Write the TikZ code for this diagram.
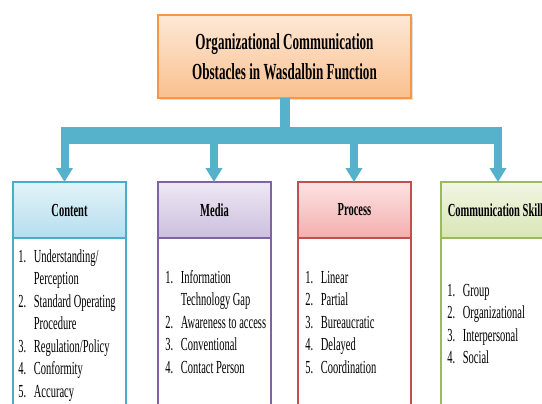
\documentclass[tikz,border=0pt]{standalone}
\usepackage{fontspec}
\setmainfont{Liberation Serif}[FakeStretch=0.57]
\usepackage{tikz}
\usetikzlibrary{arrows.meta}
\usetikzlibrary{shadows}

\definecolor{trunkblue}{HTML}{56B1CB}
\definecolor{titleline}{HTML}{F79646}
\definecolor{titletop}{HTML}{FDE8D6}
\definecolor{titlebottom}{HTML}{FAC08F}
\definecolor{contentline}{HTML}{4BACC6}
\definecolor{contenttop}{HTML}{E2F3FA}
\definecolor{contentbottom}{HTML}{B6DEEE}
\definecolor{medialine}{HTML}{8064A2}
\definecolor{mediatop}{HTML}{EEE8F4}
\definecolor{mediabottom}{HTML}{CCBFDD}
\definecolor{processline}{HTML}{C0504D}
\definecolor{processtop}{HTML}{FDE2E2}
\definecolor{processbottom}{HTML}{F4AEAE}
\definecolor{skillline}{HTML}{9BBB59}
\definecolor{skilltop}{HTML}{F2F6E3}
\definecolor{skillbottom}{HTML}{D8E5B6}

% numbered list set as a two column table
\newcommand*{\obslist}[1]{{\fontsize{9.2}{11.25}\selectfont
 \begin{tabular}[t]{@{}p{7.75pt}@{}l@{}}#1\end{tabular}}}

\begin{document}
\begin{tikzpicture}[x=0.5pt,y=0.5pt,
 titlebox/.style = {draw=titleline, line width=0.75pt, outer sep=0pt,
 top color=titletop, bottom color=titlebottom,
 minimum width=126.5pt, minimum height=41.5pt, align=center,
 font=\fontsize{11.5}{15}\selectfont\bfseries,
 drop shadow={shadow xshift=0.8pt, shadow yshift=-0.8pt, opacity=0.25}},
 headbox/.style = {draw, line width=0.9pt, outer sep=0pt,
 minimum width=56.5pt, minimum height=28pt,
 font=\fontsize{9.2}{11}\selectfont\bfseries},
 listbox/.style = {line width=0.75pt},
 listtext/.style = {anchor=base west, inner sep=0pt},
 trunk/.style = {draw=trunkblue, line width=5pt},
 bar/.style = {draw=trunkblue, line width=8.5pt},
 branch/.style = {draw=trunkblue, line width=4pt,
 -{Triangle[width=8pt,length=7pt]}}]

\useasboundingbox (0,0) rectangle (542,-403);
\clip (0,0) rectangle (542,-403);

\node[titlebox] (obstacles) at (284.5,-56.5)
 {Organizational Communication\\Obstacles in Wasdalbin Function};

% category headers
\node[headbox, draw=contentline, top color=contenttop, bottom color=contentbottom]
 (content) at (69.5,-210) {Content};
\node[headbox, draw=medialine, top color=mediatop, bottom color=mediabottom]
 (media) at (214.5,-210) {Media};
\node[headbox, draw=processline, top color=processtop, bottom color=processbottom]
 (process) at (354.5,-210) {Process};
\node[headbox, draw=skillline, top color=skilltop, bottom color=skillbottom]
 (skills) at (497.5,-210) {Communication Skills};

% list boxes below the headers
\draw[listbox, draw=contentline] (content.south west) rectangle ++(113,-200);
\draw[listbox, draw=medialine] (media.south west) rectangle ++(113,-200);
\draw[listbox, draw=processline] (process.south west) rectangle ++(113,-200);
\draw[listbox, draw=skillline] (skills.south west) rectangle ++(113,-200);

\node[listtext] (contentlist) at (18,-262) {\obslist{
 1.&Understanding/\\ &Perception\\
 2.&Standard Operating\\ &Procedure\\
 3.&Regulation/Policy\\
 4.&Conformity\\
 5.&Accuracy}};
\node[listtext] (medialist) at (165,-283) {\obslist{
 1.&Information\\ &Technology Gap\\
 2.&Awareness to access\\
 3.&Conventional\\
 4.&Contact Person}};
\node[listtext] (processlist) at (305,-283) {\obslist{
 1.&Linear\\
 2.&Partial\\
 3.&Bureaucratic\\
 4.&Delayed\\
 5.&Coordination}};
\node[listtext] (skilllist) at (447,-296) {\obslist{
 1.&Group\\
 2.&Organizational\\
 3.&Interpersonal\\
 4.&Social}};

% connectors
\coordinate (fork) at (285,-135.5);
\coordinate (c1) at (64.5,-135.5);
\coordinate (c2) at (214,-135.5);
\coordinate (c3) at (354,-135.5);
\coordinate (c4) at (498,-135.5);

\draw[trunk] (obstacles.south) -- (obstacles.south |- fork);
\draw[bar] ([xshift=-2pt]c1) -- ([xshift=2pt]c4);
\draw[branch] (c1) -- (c1 |- content.north);
\draw[branch] (c2) -- (c2 |- media.north);
\draw[branch] (c3) -- (c3 |- process.north);
\draw[branch] (c4) -- (c4 |- skills.north);
\end{tikzpicture}
\end{document}
